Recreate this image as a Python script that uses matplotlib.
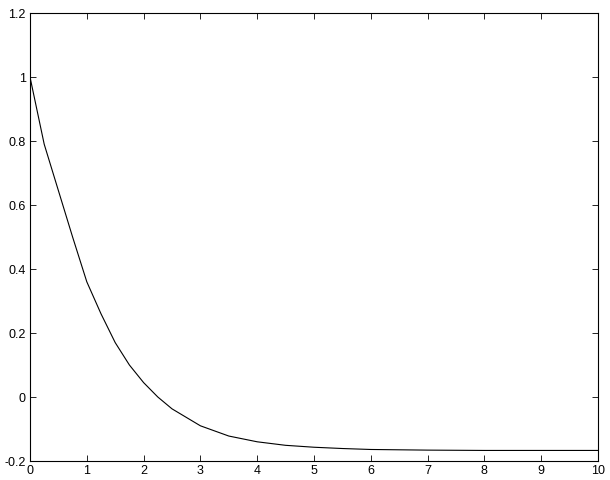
import numpy as np, matplotlib
matplotlib.use("Agg"); import matplotlib.pyplot as plt
plt.rcParams.update({"font.family":["Liberation Sans","DejaVu Sans"],"font.size":9})

# values
t=[0,0.25,0.5,0.75,1.0,1.25,1.5,1.75,2.0,2.25,2.5,3.0,3.5,4.0,4.5,5.0,5.5,6.0,7.0,8.0,9.0,10.0]
v=[1.0,0.79,0.645,0.5,0.36,0.26,0.17,0.1,0.045,0.0,-0.037,-0.09,-0.122,-0.14,-0.151,-0.157,-0.161,-0.164,-0.166,-0.167,-0.167,-0.167]
xt=list(range(0,11)); yt=[-0.2,0,0.2,0.4,0.6,0.8,1,1.2]
ytl=["-0.2","0","0.2","0.4","0.6","0.8","1","1.2"]

fig=plt.figure(figsize=(6.1,4.8),dpi=100)
ax=fig.add_axes([30/610,19/480,568/610,448/480])
ax.plot(t,v,color="k",lw=0.8)
ax.set_xlim(0,10); ax.set_ylim(-0.2,1.2)
ax.set_xticks(xt); ax.set_yticks(yt); ax.set_yticklabels(ytl)
ax.tick_params(direction="in",top=True,right=True,length=4,width=0.6,pad=3)
for s in ax.spines.values(): s.set_linewidth(0.8)
fig.savefig("out.png",dpi=100)
